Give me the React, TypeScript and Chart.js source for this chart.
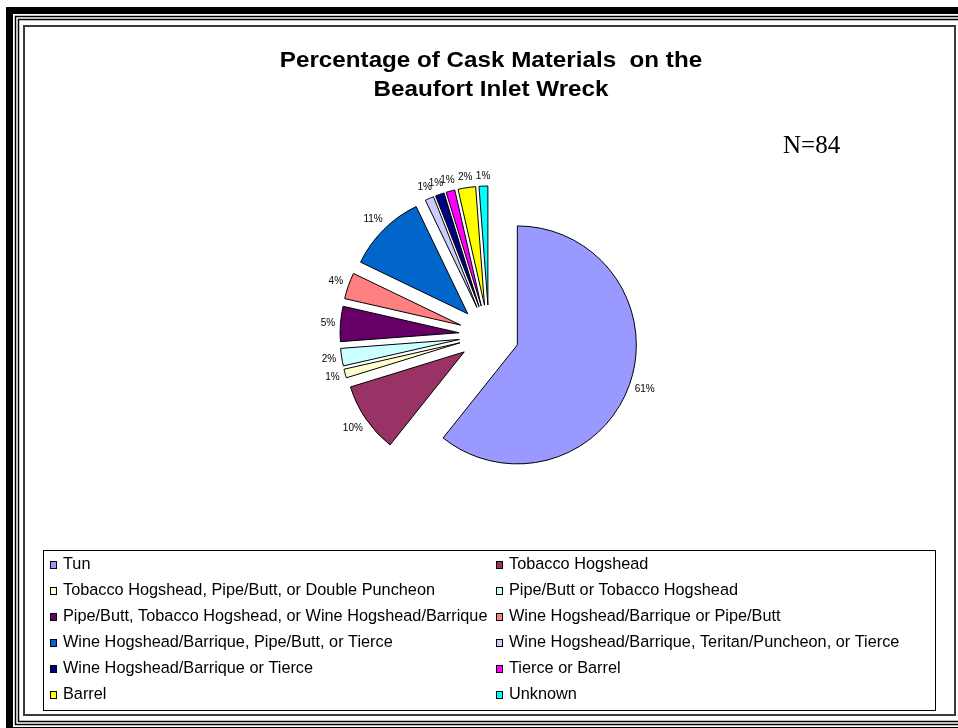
import React, { useEffect, useRef } from 'react';
import { Chart, registerables } from 'chart.js';

Chart.register(...registerables);

const categories = [
  'Tun',
  'Tobacco Hogshead',
  'Tobacco Hogshead, Pipe/Butt, or Double Puncheon',
  'Pipe/Butt or Tobacco Hogshead',
  'Pipe/Butt, Tobacco Hogshead, or Wine Hogshead/Barrique',
  'Wine Hogshead/Barrique or Pipe/Butt',
  'Wine Hogshead/Barrique, Pipe/Butt, or Tierce',
  'Wine Hogshead/Barrique, Teritan/Puncheon, or Tierce',
  'Wine Hogshead/Barrique or Tierce',
  'Tierce or Barrel',
  'Barrel',
  'Unknown',
];

const counts = [51, 8, 1, 2, 4, 3, 9, 1, 1, 1, 2, 1];

const sliceColors = [
  '#9999FF',
  '#993366',
  '#FFFFCC',
  '#CCFFFF',
  '#660066',
  '#FF8080',
  '#0066CC',
  '#CCCCFF',
  '#000080',
  '#FF00FF',
  '#FFFF00',
  '#00FFFF',
];

const titleLines = ['Percentage of Cask Materials  on the', 'Beaufort Inlet Wreck'];
const sampleNote = 'N=84';

const SANS = '"Liberation Sans", Arial, Helvetica, sans-serif';
const SERIF = '"Liberation Serif", "Times New Roman", serif';
const EXPLODE = 30;

const framePlugin = {
  id: 'frame',
  beforeDraw(chart: any) {
    const ctx = chart.ctx as CanvasRenderingContext2D;
    ctx.save();
    ctx.fillStyle = '#ffffff';
    ctx.fillRect(0, 0, chart.width, chart.height);
    ctx.strokeStyle = '#000000';
    // thick outer band
    ctx.lineWidth = 7;
    ctx.strokeRect(9.5, 10.5, 975, 720);
    // two thin lines
    ctx.lineWidth = 1.5;
    ctx.strokeRect(15.5, 16.5, 960, 708);
    ctx.strokeRect(18.5, 19.5, 954, 702);
    // inner line
    ctx.strokeStyle = '#3a3a3a';
    ctx.lineWidth = 2;
    ctx.strokeRect(24, 26, 931, 689);
    ctx.restore();
  },
};

const explodePlugin = {
  id: 'explodeSlices',
  beforeDatasetDraw(chart: any, args: any) {
    const ctx = chart.ctx as CanvasRenderingContext2D;
    const meta = args.meta;
    meta.data.forEach((arc: any) => {
      const mid = (arc.startAngle + arc.endAngle) / 2;
      ctx.save();
      ctx.translate(Math.cos(mid) * EXPLODE, Math.sin(mid) * EXPLODE);
      arc.draw(ctx);
      ctx.restore();
    });
    return false;
  },
};

function stretchedText(ctx: CanvasRenderingContext2D, txt: string, x: number, y: number, sx: number) {
  ctx.save();
  ctx.translate(x, y);
  ctx.scale(sx, 1);
  ctx.fillText(txt, 0, 0);
  ctx.restore();
}

const textPlugin = {
  id: 'texts',
  afterDatasetsDraw(chart: any) {
    const ctx = chart.ctx as CanvasRenderingContext2D;
    const meta = chart.getDatasetMeta(0);
    const values: number[] = chart.data.datasets[0].data;
    const total = values.reduce((a, b) => a + b, 0);
    ctx.save();
    // percentage labels
    ctx.font = `10px ${SANS}`;
    ctx.fillStyle = '#000000';
    ctx.textAlign = 'center';
    ctx.textBaseline = 'middle';
    meta.data.forEach((arc: any, i: number) => {
      const mid = (arc.startAngle + arc.endAngle) / 2;
      const txt = Math.round((values[i] / total) * 100) + '%';
      const w = ctx.measureText(txt).width;
      const c = Math.cos(mid);
      const s = Math.sin(mid);
      const d = arc.outerRadius + EXPLODE + 5 + Math.abs(c) * w / 2 + Math.abs(s) * 4.5;
      ctx.fillText(txt, arc.x + c * d, arc.y + s * d);
    });

    // title
    ctx.font = `bold 22px ${SANS}`;
    ctx.textAlign = 'center';
    ctx.textBaseline = 'alphabetic';
    stretchedText(ctx, titleLines[0], 491, 67, 1.1);
    stretchedText(ctx, titleLines[1], 491, 96, 1.1);

    // N note
    ctx.font = `25px ${SERIF}`;
    ctx.textAlign = 'left';
    ctx.fillText(sampleNote, 783, 153);

    // legend
    const colors: string[] = chart.data.datasets[0].backgroundColor;
    const labels: string[] = chart.data.labels;
    ctx.strokeStyle = '#000000';
    ctx.lineWidth = 1;
    ctx.strokeRect(43.5, 550.5, 892, 160);
    ctx.font = `16.3px ${SANS}`;
    ctx.textBaseline = 'middle';
    labels.forEach((lab, i) => {
      const col = i % 2;
      const row = Math.floor(i / 2);
      const mx = col === 0 ? 50 : 496;
      const tx = col === 0 ? 63 : 509;
      const cy = 564 + row * 26;
      ctx.fillStyle = colors[i];
      ctx.fillRect(mx, cy - 3, 7, 8);
      ctx.strokeStyle = '#000000';
      ctx.strokeRect(mx + 0.5, cy - 2.5, 6, 7);
      ctx.fillStyle = '#000000';
      ctx.fillText(lab, tx, cy + 1);
    });
    ctx.restore();
  },
};

export default function App() {
  const ref = useRef<HTMLCanvasElement | null>(null);

  useEffect(() => {
    document.body.style.margin = '0';
    const canvas = ref.current;
    if (!canvas) return;
    const chart = new Chart(canvas, {
      type: 'pie',
      data: {
        labels: categories,
        datasets: [
          {
            data: counts,
            backgroundColor: sliceColors,
            borderColor: '#000000',
            borderWidth: 1,
          },
        ],
      },
      options: {
        responsive: false,
        animation: false,
        devicePixelRatio: 1,
        radius: 119,
        layout: { padding: { left: 289, right: 269, top: 135, bottom: 193 } },
        plugins: {
          legend: { display: false },
          title: { display: false },
          tooltip: { enabled: false },
        },
        events: [],
      } as any,
      plugins: [framePlugin, explodePlugin, textPlugin],
    });
    return () => chart.destroy();
  }, []);

  return (
    <div style={{ width: 958, height: 728 }}>
      <canvas ref={ref} width={958} height={728} style={{ display: 'block' }} />
    </div>
  );
}
